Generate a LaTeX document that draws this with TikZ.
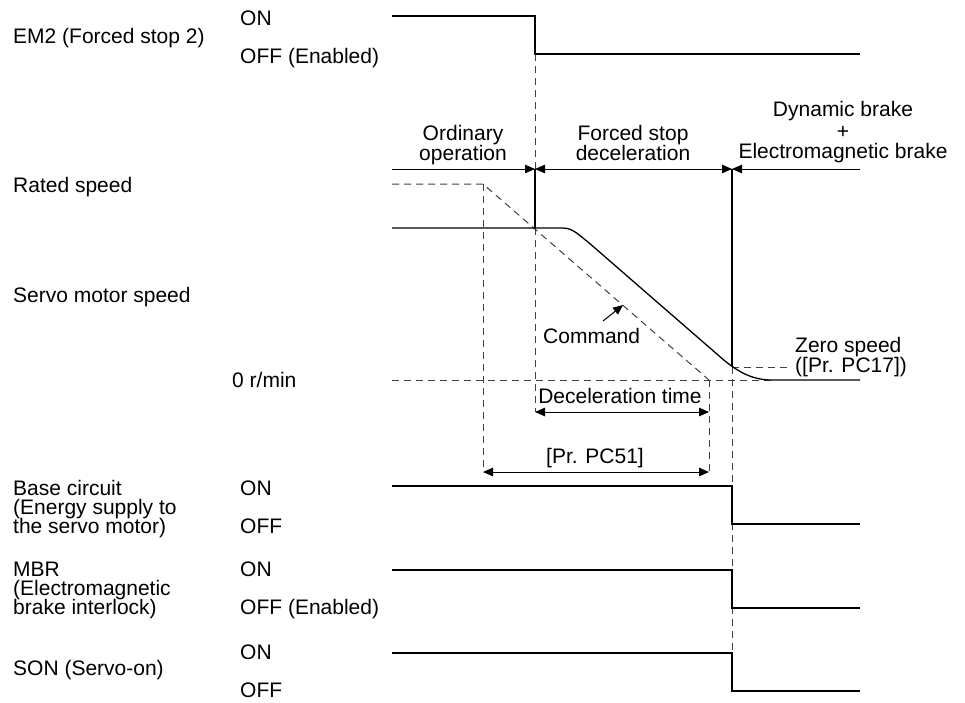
\documentclass[tikz,border=0pt]{standalone}
\usepackage{fontspec}
\setmainfont{Liberation Sans}
\usetikzlibrary{arrows.meta}
\begin{document}
\begin{tikzpicture}[x=1pt,y=-1pt,
  every node/.style={font=\fontsize{21}{21}\selectfont, inner sep=0pt, text=black},
  lbl/.style={anchor=base west},
  ctr/.style={anchor=base},
  sig/.style={line width=1.3pt, black, line join=miter},
  dsh/.style={line width=1pt, black!75, dash pattern=on 7pt off 5pt},
  tri/.tip={Triangle[length=10pt,width=8.5pt]},
  dimline/.style={line width=1pt, black},
]
\useasboundingbox (0,0) rectangle (965,702);

% ---------- left labels ----------
\node[lbl] (em2) at (13,43) {EM2 (Forced stop 2)};
\node[lbl] (em2on) at (240,25) {ON};
\node[lbl] (em2off) at (240,63) {OFF (Enabled)};
\node[lbl] (rated) at (13,192) {Rated speed};
\node[lbl] (servo) at (13,302) {Servo motor speed};
\node[lbl] (zerorpm) at (232,387) {0 r/min};
\node[lbl] (base1) at (13,495) {Base circuit};
\node[lbl] (base2) at (13,514) {(Energy supply to};
\node[lbl] (base3) at (13,533) {the servo motor)};
\node[lbl] (baseon) at (240,495) {ON};
\node[lbl] (baseoff) at (240,533) {OFF};
\node[lbl] (mbr1) at (13,576) {MBR};
\node[lbl] (mbr2) at (13,595) {(Electromagnetic};
\node[lbl] (mbr3) at (13,614) {brake interlock)};
\node[lbl] (mbron) at (240,576) {ON};
\node[lbl] (mbroff) at (240,614) {OFF (Enabled)};
\node[lbl] (sonon) at (240,659) {ON};
\node[lbl] (son) at (13,675) {SON (Servo-on)};
\node[lbl] (sonoff) at (240,697) {OFF};

% ---------- phase labels ----------
\node[ctr] (ord1) at (463,140) {Ordinary};
\node[ctr] (ord2) at (463,160) {operation};
\node[ctr] (fsd1) at (633,140) {Forced stop};
\node[ctr] (fsd2) at (633,160) {deceleration};
\node[ctr] (db1) at (843,116) {Dynamic brake};
\node[anchor=center] (db2) at (843,132) {+};
\node[ctr] (db3) at (843,158) {Electromagnetic brake};

% ---------- coordinates ----------
\coordinate (pA) at (392,169);
\coordinate (pB) at (535,169);
\coordinate (pC) at (732,169);
\coordinate (pD) at (860,169);
\coordinate (dtL) at (535,412);
\coordinate (dtR) at (709,412);
\coordinate (pcL) at (483,472);
\coordinate (pcR) at (709,472);
\coordinate (cmdS) at (603,321);
\coordinate (cmdE) at (623,305);

% ---------- EM2 signal ----------
\draw[sig] (392,16) -- (535,16) -- (535,54) -- (860,54);

% ---------- verticals ----------
\draw[dsh] (535,54) -- (535,169);
\draw[sig] (535,169) -- (535,228);
\draw[dsh] (535,228) -- (535,412);
\draw[sig] (732,169) -- (732,367);
\draw[dsh] (732,367) -- (732,691);
\draw[dsh] (483,184) -- (483,472);
\draw[dsh] (709,380) -- (709,472);

% ---------- phase arrows ----------
\draw[dimline,-{tri}] (pA) -- (pB);
\draw[dimline,{tri}-{tri}] (pB) -- (pC);
\draw[dimline,{tri}-] (pC) -- (pD);

% ---------- speed ----------
\draw[dsh] (392,184) -- (483,184) -- (709,380);
\draw[dsh] (392,380) -- (772,380);
\draw[dsh] (732,367) -- (790,367);
\draw[sig] (392,228) -- (563,228) .. controls (573,228) and (580,236) .. (588,242)
  -- (718,355) .. controls (735,370) and (750,380) .. (772,380) -- (860,380);

\node[lbl] (cmd) at (543,343) {Command};
\draw[dimline,-{tri}] (cmdS) -- (cmdE);
\node[lbl] (zs1) at (795,352) {Zero speed};
\node[lbl] (zs2) at (795,372) {([Pr. PC17])};

% ---------- dimensions ----------
\node[ctr] (dt) at (620,403) {Deceleration time};
\draw[dimline,{tri}-{tri}] (dtL) -- (dtR);
\node[ctr] (pc51) at (595,463) {[Pr. PC51]};
\draw[dimline,{tri}-{tri}] (pcL) -- (pcR);

% ---------- lower signals ----------
\draw[sig] (392,486) -- (732,486) -- (732,524) -- (860,524);
\draw[sig] (392,570) -- (732,570) -- (732,608) -- (860,608);
\draw[sig] (392,653) -- (732,653) -- (732,691) -- (860,691);
\end{tikzpicture}
\end{document}
